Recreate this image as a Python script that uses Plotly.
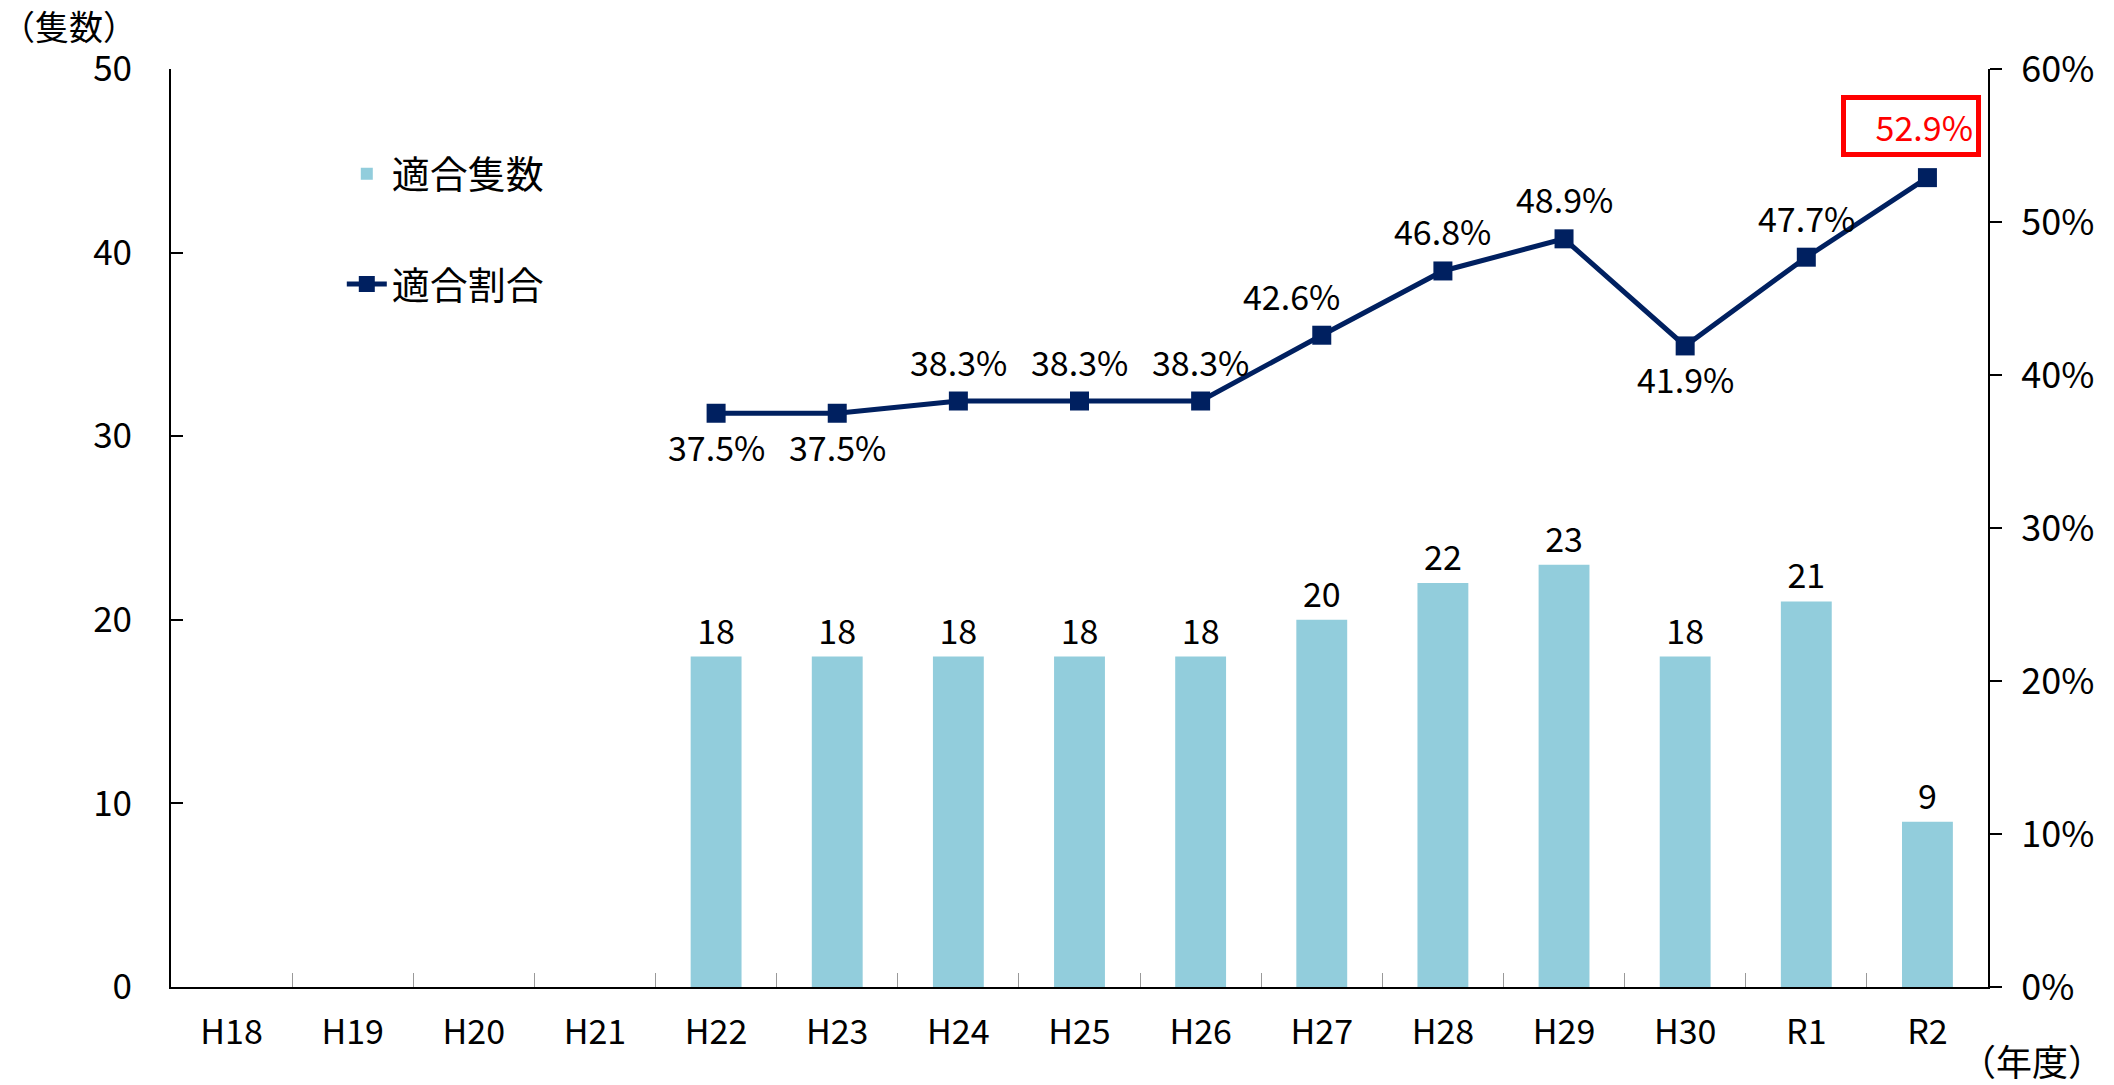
import plotly.graph_objects as go

categories = ["H18", "H19", "H20", "H21", "H22", "H23", "H24", "H25", "H26",
              "H27", "H28", "H29", "H30", "R1", "R2"]
counts = [None, None, None, None, 18, 18, 18, 18, 18, 20, 22, 23, 18, 21, 9]
rates = [None, None, None, None, 37.5, 37.5, 38.3, 38.3, 38.3, 42.6, 46.8, 48.9, 41.9, 47.7, 52.9]
# label placement for the rate labels: +1 above, -1 below
rate_label_side = [0, 0, 0, 0, -1, -1, 1, 1, 1, 1, 1, 1, -1, 1, 1]
rate_label_xshift = [0, 0, 0, 0, 0, 0, 0, 0, 0, -30, 0, 0, 0, 0, -16]

BAR_COLOR = "#92CDDC"
LINE_COLOR = "#002060"
FONT = "Noto Sans CJK JP"

fig = go.Figure()

fig.add_trace(go.Bar(
    x=categories, y=counts, name="適合隻数",
    marker=dict(color=BAR_COLOR, line=dict(width=0)),
    text=[("" if v is None else str(v)) for v in counts],
    textposition="outside", textfont=dict(size=34, color="#000000", family=FONT),
    cliponaxis=False, legendgroup="a",
))

fig.add_trace(go.Scatter(
    x=categories, y=rates, name="適合割合", yaxis="y2",
    mode="lines+markers",
    line=dict(color=LINE_COLOR, width=5),
    marker=dict(symbol="square", size=19, color=LINE_COLOR),
    connectgaps=False, legendgroup="b",
))

for c, r, side, xs in zip(categories, rates, rate_label_side, rate_label_xshift):
    if r is None:
        continue
    is_last = c == categories[-1]
    ann = dict(
        x=c, y=r, xref="x", yref="y2", text=f"{r:.1f}%", showarrow=False,
        font=dict(size=34, color="#FF0000" if is_last else "#000000", family=FONT),
        yshift=(52 if is_last else 40) if side > 0 else -33,
        xshift=xs,
    )
    if is_last:
        ann.update(bordercolor="#FF0000", borderwidth=5, borderpad=3, bgcolor="#FFFFFF",
                   width=124, height=46, align="right")
    fig.add_annotation(**ann)

fig.add_annotation(x=0, y=1, xref="paper", yref="paper", xshift=-172, yshift=44,
                   xanchor="left", yanchor="middle", text="（隻数）", showarrow=False,
                   font=dict(size=34, color="#000000", family=FONT))
fig.add_annotation(x=1, y=0, xref="paper", yref="paper", xshift=-30, yshift=-73,
                   xanchor="left", yanchor="middle", text="（年度）", showarrow=False,
                   font=dict(size=36, color="#000000", family=FONT))

fig.update_layout(
    width=2114, height=1085,
    margin=dict(l=171, r=126, t=69, b=98),
    paper_bgcolor="#FFFFFF", plot_bgcolor="#FFFFFF",
    font=dict(family=FONT, size=34, color="#000000"),
    bargap=0.58,
    showlegend=True,
    legend=dict(x=0.094, y=0.92, xanchor="left", yanchor="top",
                font=dict(size=38, family=FONT), tracegroupgap=58,
                bgcolor="rgba(0,0,0,0)", itemwidth=40),
    xaxis=dict(
        showgrid=False, showline=True, linecolor="#000000", linewidth=2,
        ticks="inside", tickson="boundaries", ticklen=14, tickcolor="#999999",
        tickwidth=1, tickfont=dict(size=34, family=FONT), ticklabelstandoff=14,
        range=[-0.5, 14.5],
    ),
    yaxis=dict(
        range=[0, 50], dtick=10, showgrid=False, zeroline=False,
        showline=True, linecolor="#000000", linewidth=2,
        ticks="inside", ticklen=12, tickcolor="#000000", tickwidth=2,
        tickfont=dict(size=35, family=FONT), ticklabelstandoff=30,
    ),
    yaxis2=dict(
        range=[0, 60], dtick=10, ticksuffix="%", overlaying="y", side="right",
        showgrid=False, zeroline=False, showline=True, linecolor="#000000",
        linewidth=2, ticks="outside", ticklen=12, tickcolor="#000000", tickwidth=2,
        tickfont=dict(size=36, family=FONT), ticklabelstandoff=12,
    ),
)

fig.write_html("out.html", config={"displayModeBar": False},
               post_script="document.body.style.margin='0';document.body.style.overflow='hidden';")
